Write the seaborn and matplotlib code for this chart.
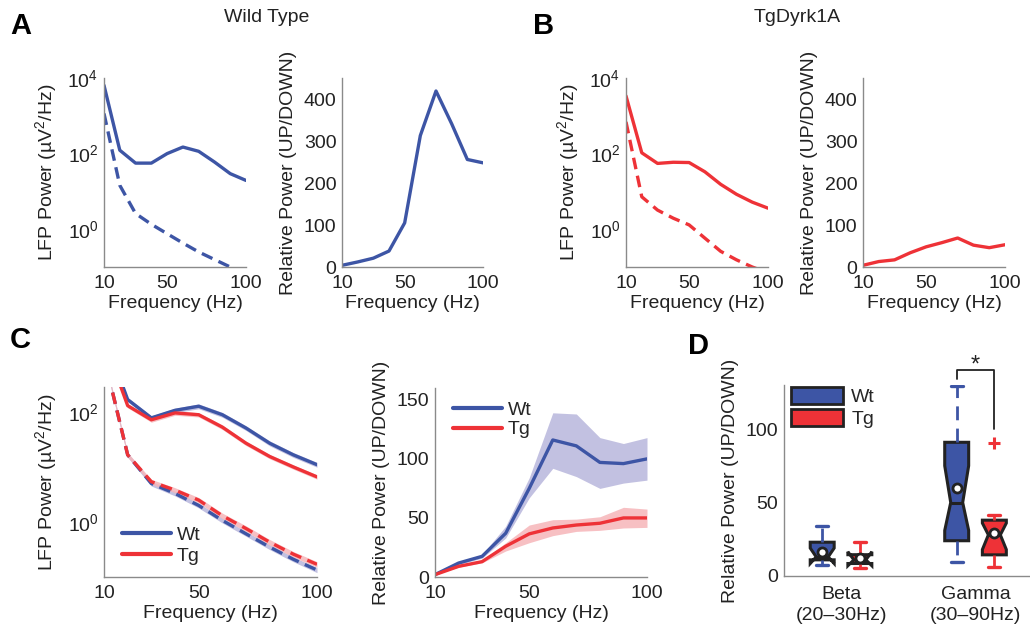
import matplotlib
matplotlib.use("Agg")
import matplotlib.pyplot as plt
import seaborn as sns
from matplotlib.lines import Line2D
from matplotlib.patches import Patch
from matplotlib.ticker import NullLocator

# ---------------- data ----------------
freqs = [10, 20, 30, 40, 50, 60, 70, 80, 90, 100]

# Panel A (Wild Type)
wt_up = [6400, 123, 56, 56, 100, 149, 115, 60, 29.5, 19.5]
wt_down = [1150, 14.5, 2.6, 1.35, 0.76, 0.43, 0.25, 0.158, 0.10, 0.065]
wt_ratio = [4, 12, 21, 38, 105, 313, 419, 341, 256, 248]

# Panel B (TgDyrk1A)
tg_up = [3350, 105, 55, 59, 58, 33, 15.4, 8.4, 5.2, 3.6]
tg_down = [690, 7.2, 3.2, 1.95, 1.3, 0.58, 0.26, 0.155, 0.10, 0.07]
tg_ratio = [4, 13, 17, 34, 48, 58, 69, 52, 46, 53]

# Panel C left (mean +/- sem)
c_wt_up = [2500, 168, 78, 107, 127, 89, 51, 27, 16.6, 11]
c_wt_up_sem = [300, 15, 7, 10, 13, 9, 5, 2.8, 1.7, 1.1]
c_tg_up = [2000, 130, 72, 96, 89, 53, 27, 15.5, 10, 6.6]
c_tg_up_sem = [250, 11, 7, 9, 8, 5, 2.5, 1.4, 0.9, 0.6]
c_wt_down = [1000, 16.6, 5.0, 3.3, 2.0, 1.07, 0.61, 0.35, 0.21, 0.134]
c_wt_down_sem = [120, 1.6, 0.5, 0.32, 0.2, 0.11, 0.06, 0.035, 0.021, 0.014]
c_tg_down = [1000, 16.6, 5.4, 3.8, 2.5, 1.3, 0.76, 0.43, 0.26, 0.17]
c_tg_down_sem = [90, 1.6, 0.55, 0.4, 0.28, 0.15, 0.09, 0.05, 0.03, 0.02]

# Panel C right (mean with band)
c_wt_ratio = [2, 11.8, 17.5, 37, 75, 116, 111, 97, 96, 100]
c_wt_ratio_lo = [2, 10.5, 16, 33, 67, 92, 85, 75, 79.5, 82]
c_wt_ratio_hi = [2, 13, 19, 43, 84, 139, 138, 118, 113, 118]
c_tg_ratio = [2, 9, 13, 26, 36.5, 41.5, 44, 45.5, 50, 50]
c_tg_ratio_lo = [2, 8.3, 12, 22, 29, 35, 38.6, 39.5, 41.5, 42]
c_tg_ratio_hi = [2, 9.8, 14, 29, 44, 48.5, 49, 51, 59, 57.5]

# Panel D (box statistics)
band_labels = ["Beta\n(20\u201330Hz)", "Gamma\n(30\u201390Hz)"]
wt_whislo = [7.5, 9.4]
wt_q1 = [11, 24]
wt_cilo = [8.5, 31]
wt_med = [13, 50]
wt_cihi = [19, 75]
wt_q3 = [23, 91]
wt_whishi = [33.8, 129]
wt_mean = [16.2, 60]
wt_fliers = [[], []]
tg_whislo = [5.3, 6]
tg_q1 = [8.5, 14.4]
tg_cilo = [7, 18]
tg_med = [11, 28]
tg_cihi = [16.5, 36]
tg_q3 = [14.5, 38]
tg_whishi = [23, 41.8]
tg_mean = [12, 29.5]
tg_fliers = [[], [90.4]]

BLUE = "#3D55A5"
RED = "#EE3237"
LAV = "#B8B6DC"
PINK = "#F6B5B9"
DARK = "#222222"
SPINE = "#8a8a8a"

sns.set_theme(style="white")
plt.rcParams["font.family"] = ["Liberation Sans", "DejaVu Sans"]
plt.rcParams["mathtext.fontset"] = "custom"
plt.rcParams["mathtext.rm"] = "Liberation Sans"
plt.rcParams["mathtext.it"] = "Liberation Sans:italic"
plt.rcParams["mathtext.default"] = "regular"

FS = 14
fig = plt.figure(figsize=(10.3, 6.31), dpi=100)
W, H = 1030.0, 631.0


def add_ax(l, t, r, b):
    return fig.add_axes([l / W, 1 - b / H, (r - l) / W, (b - t) / H])


def style(ax):
    for s in ["top", "right"]:
        ax.spines[s].set_visible(False)
    for s in ["left", "bottom"]:
        ax.spines[s].set_color(SPINE)
        ax.spines[s].set_linewidth(1.0)
    ax.tick_params(axis="both", direction="in", length=4, width=0.8,
                   color=SPINE, labelcolor=DARK, labelsize=FS)
    ax.tick_params(axis="x", pad=6)
    ax.tick_params(axis="y", pad=4)


def freq_axis(ax):
    ax.set_xlim(10, 100)
    ax.set_xticks([10, 50, 100])
    ax.set_xticklabels(["10", "50", "100"])
    ax.set_xlabel("Frequency (Hz)", fontsize=FS, color=DARK, labelpad=2)


def log_axis(ax, lo, hi, ticks, exps):
    ax.set_yscale("log")
    ax.set_ylim(lo, hi)
    ax.set_yticks(ticks)
    ax.set_yticklabels([r"$10^{%d}$" % e for e in exps])
    ax.yaxis.set_minor_locator(NullLocator())
    ax.set_ylabel("LFP Power (\u00b5V$^2$/Hz)", fontsize=FS, color=DARK, labelpad=6)


LW = 2.4
DASH = (0, (3.5, 2.0))

# ---------------- Panel A ----------------
axA1 = add_ax(104, 78, 246, 267)
style(axA1)
log_axis(axA1, 0.1, 1e4, [1, 100, 1e4], [0, 2, 4])
sns.lineplot(x=freqs, y=wt_up, ax=axA1, color=BLUE, lw=LW)
sns.lineplot(x=freqs, y=wt_down, ax=axA1, color=BLUE, lw=LW, linestyle=DASH)
freq_axis(axA1)

axA2 = add_ax(342, 78, 483, 267)
style(axA2)
sns.lineplot(x=freqs, y=wt_ratio, ax=axA2, color=BLUE, lw=LW)
axA2.set_ylim(0, 450)
axA2.set_yticks([0, 100, 200, 300, 400])
axA2.set_ylabel("Relative Power (UP/DOWN)", fontsize=FS, color=DARK, labelpad=5)
freq_axis(axA2)

# ---------------- Panel B ----------------
axB1 = add_ax(626, 78, 768, 267)
style(axB1)
log_axis(axB1, 0.1, 1e4, [1, 100, 1e4], [0, 2, 4])
sns.lineplot(x=freqs, y=tg_up, ax=axB1, color=RED, lw=LW)
sns.lineplot(x=freqs, y=tg_down, ax=axB1, color=RED, lw=LW, linestyle=DASH)
freq_axis(axB1)

axB2 = add_ax(863, 78, 1005, 267)
style(axB2)
sns.lineplot(x=freqs, y=tg_ratio, ax=axB2, color=RED, lw=LW)
axB2.set_ylim(0, 450)
axB2.set_yticks([0, 100, 200, 300, 400])
axB2.set_ylabel("Relative Power (UP/DOWN)", fontsize=FS, color=DARK, labelpad=5)
freq_axis(axB2)

# ---------------- Panel C left ----------------
axC1 = add_ax(104, 387, 317, 577)
style(axC1)
log_axis(axC1, 0.1, 284, [1, 100], [0, 2])
for m, s, fc in [(c_wt_up, c_wt_up_sem, LAV), (c_tg_up, c_tg_up_sem, PINK),
                 (c_wt_down, c_wt_down_sem, LAV), (c_tg_down, c_tg_down_sem, PINK)]:
    axC1.fill_between(freqs, [a - b for a, b in zip(m, s)], [a + b for a, b in zip(m, s)],
                      color=fc, alpha=0.85, lw=0)
sns.lineplot(x=freqs, y=c_wt_up, ax=axC1, color=BLUE, lw=LW)
sns.lineplot(x=freqs, y=c_tg_up, ax=axC1, color=RED, lw=LW)
sns.lineplot(x=freqs, y=c_wt_down, ax=axC1, color=BLUE, lw=LW, linestyle=DASH)
sns.lineplot(x=freqs, y=c_tg_down, ax=axC1, color=RED, lw=LW, linestyle=DASH)
freq_axis(axC1)
hC = [Line2D([], [], color=BLUE, lw=3), Line2D([], [], color=RED, lw=3)]
axC1.legend(hC, ["Wt", "Tg"], loc="upper left", bbox_to_anchor=(0.085, 0.265),
            frameon=False, fontsize=FS, handlelength=2.5, handletextpad=0.3,
            borderpad=0, borderaxespad=0, labelspacing=0.15)

# ---------------- Panel C right ----------------
axC2 = add_ax(435, 388, 647, 577)
style(axC2)
axC2.fill_between(freqs, c_wt_ratio_lo, c_wt_ratio_hi, color=LAV, alpha=0.85, lw=0)
axC2.fill_between(freqs, c_tg_ratio_lo, c_tg_ratio_hi, color=PINK, alpha=0.85, lw=0)
sns.lineplot(x=freqs, y=c_wt_ratio, ax=axC2, color=BLUE, lw=LW)
sns.lineplot(x=freqs, y=c_tg_ratio, ax=axC2, color=RED, lw=LW)
axC2.set_ylim(0, 160)
axC2.set_yticks([0, 50, 100, 150])
axC2.set_ylabel("Relative Power (UP/DOWN)", fontsize=FS, color=DARK, labelpad=5)
freq_axis(axC2)
axC2.legend(hC, ["Wt", "Tg"], loc="upper left", bbox_to_anchor=(0.085, 0.93),
            frameon=False, fontsize=FS, handlelength=2.5, handletextpad=0.3,
            borderpad=0, borderaxespad=0, labelspacing=0.1)

# ---------------- Panel D ----------------
axD = add_ax(784, 385, 1030, 576)
style(axD)
pos = [1, 2]
off = 0.14
bw = 0.178


def stats_list(whislo, q1, cilo, med, cihi, q3, whishi, mean, fliers):
    return [dict(whislo=whislo[i], q1=q1[i], cilo=cilo[i], med=med[i], cihi=cihi[i],
                 q3=q3[i], whishi=whishi[i], mean=mean[i], fliers=fliers[i])
            for i in range(len(med))]


wt_stats = stats_list(wt_whislo, wt_q1, wt_cilo, wt_med, wt_cihi, wt_q3, wt_whishi, wt_mean, wt_fliers)
tg_stats = stats_list(tg_whislo, tg_q1, tg_cilo, tg_med, tg_cihi, tg_q3, tg_whishi, tg_mean, tg_fliers)

for st, c, o in [(wt_stats, BLUE, -off), (tg_stats, RED, off)]:
    axD.bxp(st, positions=[p + o for p in pos], widths=bw, shownotches=True,
            showmeans=True, patch_artist=True, manage_ticks=False,
            boxprops=dict(facecolor=c, edgecolor=DARK, linewidth=2.2),
            medianprops=dict(color=DARK, linewidth=2.2),
            whiskerprops=dict(color=c, linewidth=2.0, linestyle=(0, (5, 3))),
            capprops=dict(color=c, linewidth=2.4),
            meanprops=dict(marker="o", markerfacecolor="white", markeredgecolor=DARK,
                           markersize=6.5, markeredgewidth=2.0),
            flierprops=dict(marker="+", markeredgecolor=c, markersize=8, markeredgewidth=2.2))

axD.set_xlim(0.576, 2.405)
axD.set_ylim(0, 130)
axD.set_yticks([0, 50, 100])
axD.set_xticks(pos)
axD.set_xticklabels(band_labels, fontsize=FS, color=DARK, linespacing=1.3)
axD.tick_params(axis="x", length=0, pad=7)
axD.set_ylabel("Relative Power (UP/DOWN)", fontsize=FS, color=DARK, labelpad=5)
hD = [Patch(facecolor=BLUE, edgecolor=DARK, lw=2), Patch(facecolor=RED, edgecolor=DARK, lw=2)]
axD.legend(hD, ["Wt", "Tg"], loc="upper left", bbox_to_anchor=(0.028, 0.99),
           frameon=False, fontsize=FS, handlelength=2.7, handleheight=0.95,
           handletextpad=0.4, borderpad=0, borderaxespad=0, labelspacing=0.15)
# significance bracket
bx0, bx1 = pos[1] - off, pos[1] + off
axD.plot([bx0, bx0, bx1, bx1], [134, 140.5, 140.5, 100], color=DARK, lw=1.3, clip_on=False)
axD.text(pos[1], 139.5, "*", ha="center", va="baseline", fontsize=17, color=DARK, clip_on=False)

# ---------------- titles / letters ----------------
fig.text(267 / W, 1 - 18 / H, "Wild Type", ha="center", va="center", fontsize=FS, color=DARK)
fig.text(797 / W, 1 - 18 / H, "TgDyrk1A", ha="center", va="center", fontsize=FS, color=DARK)
for lab, x, y in [("A", 10, 12), ("B", 533, 12), ("C", 10, 326), ("D", 688, 332)]:
    fig.text(x / W, 1 - y / H, lab, ha="left", va="top", fontsize=21, fontweight="bold", color="black")

fig.savefig("out.png", dpi=100)
